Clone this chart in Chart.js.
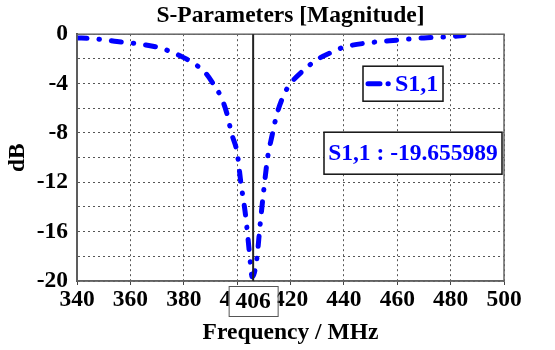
<!DOCTYPE html>
<html>
<head>
<meta charset="utf-8">
<script src="https://cdn.jsdelivr.net/npm/chart.js@4.4.1/dist/chart.umd.min.js"></script>
<style>
  html, body { margin: 0; padding: 0; background: #fff; }
  #wrap { width: 555px; height: 350px; position: relative; }
</style>
</head>
<body>
<div id="wrap"><canvas id="c" width="555" height="350"></canvas></div>
<script>
// ---- data ----
const freqMHz = [340, 345, 350, 355, 360, 365, 370, 375, 380, 384, 388, 391, 394, 396, 398, 400, 401.5, 403, 404, 405, 405.6, 406.5, 407.5, 408.5, 410, 411.5, 413, 415, 418, 420, 425, 430, 435, 440, 450, 460, 470, 478, 485];
const s11dB   = [-0.3, -0.35, -0.45, -0.6, -0.7, -0.85, -1.05, -1.4, -1.9, -2.4, -3.1, -4.0, -5.1, -6.3, -8.1, -9.6, -12.2, -14.4, -16.4, -18.6, -19.66, -19.3, -18.0, -15.7, -12.6, -9.9, -8.3, -6.4, -4.7, -4.0, -2.9, -2.05, -1.5, -1.05, -0.68, -0.48, -0.3, -0.22, -0.1];
const seriesName = 'S1,1';
const markerFreq = 406;
const markerValue = -19.655989;
const xTicks = [340, 360, 380, 400, 420, 440, 460, 480, 500];
const yTicks = [0, -4, -8, -12, -16, -20];

const FONT = '"Liberation Serif", "Times New Roman", serif';
const FS = 23.5;
const BLUE = '#0000ff';

const points = freqMHz.map((f, i) => ({ x: f, y: s11dB[i] }));

const overlay = {
  id: 'overlay',
  afterDraw(chart) {
    const { ctx, chartArea: a, scales } = chart;
    const xs = scales.x;
    ctx.save();
    // plot frame
    ctx.strokeStyle = '#666';
    ctx.lineWidth = 1.5;
    ctx.setLineDash([]);
    ctx.strokeRect(a.left, a.top, a.right - a.left, a.bottom - a.top);

    // marker line
    const mx = xs.getPixelForValue(markerFreq);
    ctx.strokeStyle = '#222';
    ctx.lineWidth = 2;
    ctx.beginPath();
    ctx.moveTo(mx, a.top);
    ctx.lineTo(mx, a.bottom);
    ctx.stroke();

    // marker x label box
    ctx.font = 'bold ' + FS + 'px ' + FONT;
    const bw = 49, bh = 30;
    const bx = mx - bw / 2, by = a.bottom + 5;
    ctx.fillStyle = '#fff';
    ctx.fillRect(bx, by, bw, bh);
    ctx.strokeStyle = '#555';
    ctx.lineWidth = 1;
    ctx.strokeRect(bx + 0.5, by + 0.5, bw, bh);
    ctx.fillStyle = '#000';
    ctx.textAlign = 'center';
    ctx.textBaseline = 'middle';
    ctx.fillText(String(markerFreq), mx, by + bh / 2 + 1);

    // legend box
    const lx = a.right - 141, ly = a.top + 32, lw = 80, lh = 35;
    ctx.fillStyle = '#fff';
    ctx.fillRect(lx, ly, lw, lh);
    ctx.strokeStyle = '#111';
    ctx.lineWidth = 1.5;
    ctx.strokeRect(lx, ly, lw, lh);
    ctx.strokeStyle = BLUE;
    ctx.lineWidth = 5;
    ctx.lineCap = 'round';
    ctx.beginPath();
    ctx.moveTo(lx + 5, ly + lh / 2);
    ctx.lineTo(lx + 17, ly + lh / 2);
    ctx.moveTo(lx + 25, ly + lh / 2);
    ctx.lineTo(lx + 25.3, ly + lh / 2);
    ctx.stroke();
    ctx.fillStyle = BLUE;
    ctx.textAlign = 'left';
    ctx.font = 'bold 24px ' + FONT;
    ctx.fillText(seriesName, lx + 32, ly + lh / 2 + 1);

    // marker value box
    const vx = a.right - 180, vy = a.top + 98, vw = 178, vh = 42;
    ctx.fillStyle = '#fff';
    ctx.fillRect(vx, vy, vw, vh);
    ctx.strokeStyle = '#111';
    ctx.lineWidth = 1.5;
    ctx.strokeRect(vx, vy, vw, vh);
    ctx.fillStyle = BLUE;
    ctx.textAlign = 'center';
    ctx.font = 'bold ' + FS + 'px ' + FONT;
    ctx.fillText(seriesName + ' : ' + markerValue.toFixed(6), vx + vw / 2, vy + vh / 2 + 1);
    ctx.restore();
  }
};

new Chart(document.getElementById('c'), {
  type: 'line',
  data: {
    datasets: [{
      label: seriesName,
      data: points,
      borderColor: BLUE,
      backgroundColor: BLUE,
      borderWidth: 5,
      borderDash: [10, 12, 0.5, 12],
      borderCapStyle: 'round',
      pointRadius: 0,
      cubicInterpolationMode: 'monotone',
      fill: false
    }]
  },
  options: {
    responsive: false,
    animation: false,
    devicePixelRatio: 1,
    layout: { padding: { left: 0, right: 51, top: 0, bottom: 0 } },
    plugins: {
      legend: { display: false },
      tooltip: { enabled: false },
      title: {
        display: true,
        text: 'S-Parameters [Magnitude]',
        fullSize: false,
        color: '#000',
        font: { family: FONT, size: FS, weight: 'bold', lineHeight: 1.2 },
        padding: { top: 2, bottom: 4 }
      }
    },
    scales: {
      x: {
        type: 'linear',
        min: 340, max: 500,
        afterBuildTicks(s) { s.ticks = xTicks.map(v => ({ value: v })); },
        afterFit(s) { s.height = 69; },
        ticks: {
          color: '#000',
          padding: 1,
          maxRotation: 0,
          autoSkip: false,
          font: { family: FONT, size: FS, weight: 'bold' },
          callback: v => String(v)
        },
        grid: { color: '#555', lineWidth: 1, tickLength: 4, tickColor: '#444' },
        border: { display: true, color: '#555', width: 1.5, dash: [2, 3] },
        title: {
          display: true,
          text: 'Frequency / MHz',
          color: '#000',
          font: { family: FONT, size: FS, weight: 'bold', lineHeight: 1.2 },
          padding: { top: 0, bottom: 3 }
        }
      },
      y: {
        type: 'linear',
        min: -20, max: 0,
        ticks: {
          stepSize: 2,
          color: '#000',
          padding: 5,
          autoSkip: false,
          font: { family: FONT, size: FS, weight: 'bold' },
          callback: v => (yTicks.includes(v) ? String(v) : '')
        },
        afterFit(s) { s.width = 77; },
        grid: { color: '#555', lineWidth: 1, tickLength: 4, tickColor: '#fff' },
        border: { display: true, color: '#444', width: 2, dash: [2, 3] },
        title: {
          display: true,
          text: 'dB',
          color: '#000',
          font: { family: FONT, size: FS, weight: 'bold', lineHeight: 1.2 },
          padding: { top: 4, bottom: 0 }
        }
      }
    }
  },
  plugins: [overlay]
});
</script>
</body>
</html>
